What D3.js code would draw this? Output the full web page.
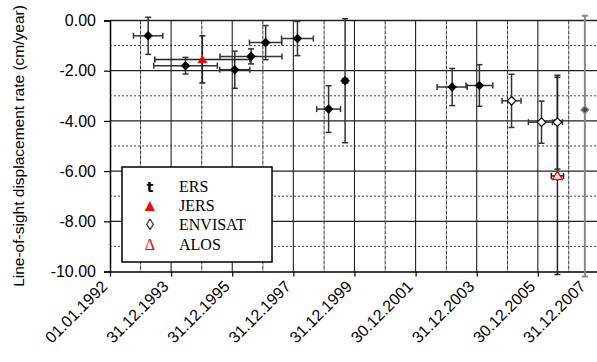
<!DOCTYPE html>
<html>
<head>
<meta charset="utf-8">
<script src="https://cdn.jsdelivr.net/npm/d3@7"></script>
<style>
  html, body { margin: 0; padding: 0; background: #fff; }
  svg { display: block; }
</style>
</head>
<body>
<svg id="chart" width="597" height="362"></svg>
<script>
// ---------------- data ----------------
const xTickLabels = ["01.01.1992","31.12.1993","31.12.1995","31.12.1997","31.12.1999","30.12.2001","31.12.2003","30.12.2005","31.12.2007"];
const yTickValues = [0, -2, -4, -6, -8, -10];
const yTitle = "Line-of-sight displacement rate (cm/year)";

const ersDates    = ["1993-04-01","1994-06-21","1996-01-30","1996-08-11","1997-02-02","1998-02-17","1999-02-24","1999-09-09","2003-03-11","2004-01-30"];
const ersValues   = [-0.61, -1.80, -1.96, -1.43, -0.88, -0.72, -3.53, -2.40, -2.65, -2.59];
const ersYErr     = [0.74, 0.33, 0.74, 0.30, 0.68, 0.68, 0.93, 2.47, 0.74, 0.83];
const ersXErrDays = [175, 380, 180, 370, 193, 190, 142, 30, 180, 160];

const jersDates    = ["1995-01-08"];
const jersValues   = [-1.55];
const jersYErr     = [0.94];
const jersXErrDays = [568];

const envisatDates    = ["2005-02-17","2006-02-10","2006-08-19"];
const envisatValues   = [-3.20, -4.05, -4.05];
const envisatYErr     = [1.06, 0.84, 1.87];
const envisatXErrDays = [113, 157, 60];

const alosDates    = ["2006-08-19"];
const alosValues   = [-6.19];
const alosYErr     = [3.93];
const alosXErrDays = [73];

const extraDates      = ["2007-07-13"];
const extraValues     = [-3.56];
const extraYErrPlus   = [3.75];
const extraYErrMinus  = [6.64];

const legendLabels  = ["ERS", "JERS", "ENVISAT", "ALOS"];
const legendSymbols = ["t", "\u25B2", "\u25CA", "\u0394"];
const legendColors  = ["#000", "#ff0000", "#000", "#ff0000"];

(function () {
// ---------------- setup ----------------
const parse = d3.timeParse("%Y-%m-%d");
const start = parse("1992-01-01");
const svg = d3.select("#chart");
svg.append("rect").attr("width", 597).attr("height", 362).attr("fill", "#fff");

const pLeft = 110, pTop = 20.5, pBottom = 271.5, pRight = 640;
const pxPerDay = 30.58 / 365.25;
const endDate = d3.timeDay.offset(start, 6000);
const x = d3.scaleTime().domain([start, endDate]).range([pLeft, pLeft + 6000 * pxPerDay]);
const y = d3.scaleLinear().domain([-10, 0]).range([pBottom, pTop]);

const majorDates = d3.range(0, 9).map(k => d3.timeDay.offset(start, k * 730));
const minorDates = d3.range(1, 17).filter(k => k % 2 === 1).map(k => d3.timeDay.offset(start, Math.round(k * 365.25)));

const grid = svg.append("g");
[-1, -3, -5, -7, -9].forEach(v => {
  grid.append("line").attr("x1", pLeft).attr("x2", pRight)
    .attr("y1", y(v)).attr("y2", y(v))
    .attr("stroke", "#444").attr("stroke-width", 1).attr("stroke-dasharray", "2,2");
});
[-2, -4, -6, -8].forEach(v => {
  grid.append("line").attr("x1", pLeft).attr("x2", pRight)
    .attr("y1", y(v)).attr("y2", y(v))
    .attr("stroke", "#222").attr("stroke-width", 1.2);
});
minorDates.forEach(d => {
  grid.append("line").attr("x1", x(d)).attr("x2", x(d))
    .attr("y1", pTop).attr("y2", pBottom)
    .attr("stroke", "#333").attr("stroke-width", 1).attr("stroke-dasharray", "4,1");
});
majorDates.slice(1).forEach(d => {
  grid.append("line").attr("x1", x(d)).attr("x2", x(d))
    .attr("y1", pTop).attr("y2", pBottom)
    .attr("stroke", "#222").attr("stroke-width", 1.1);
});
grid.append("line").attr("x1", pLeft).attr("x2", pRight).attr("y1", pTop).attr("y2", pTop)
  .attr("stroke", "#222").attr("stroke-width", 1.5);

// ---------------- axes ----------------
const yAxis = d3.axisLeft(y).tickValues(yTickValues).tickFormat(d => d.toFixed(2)).tickSize(6).tickPadding(8);
const gy = svg.append("g").attr("transform", `translate(${pLeft},0)`).call(yAxis);
gy.select(".domain").attr("stroke", "#000").attr("stroke-width", 1.5);
gy.selectAll(".tick line").attr("stroke", "#000").attr("stroke-width", 1.2);
gy.selectAll(".tick text").attr("font-family", "'Liberation Sans', Arial, sans-serif")
  .attr("font-size", 16).attr("fill", "#000");

const xAxis = d3.axisBottom(x).tickValues(majorDates).tickFormat((d, i) => xTickLabels[i]).tickSizeInner(5).tickSizeOuter(0);
const gx = svg.append("g").attr("transform", `translate(0,${pBottom})`).call(xAxis);
gx.select(".domain").attr("stroke", "#000").attr("stroke-width", 1.5);
gx.selectAll(".tick line").attr("stroke", "#000").attr("stroke-width", 1.2);
gx.selectAll(".tick text")
  .attr("font-family", "'Liberation Sans', Arial, sans-serif")
  .attr("font-size", 16).attr("fill", "#000")
  .attr("text-anchor", "end")
  .attr("dy", null).attr("y", 0)
  .attr("transform", function(d) {
    const tx = x(d);
    const shift = Math.min(0, 588 - tx);
    return `translate(${-5 + shift},${13}) rotate(-45)`;
  })
  .attr("dominant-baseline", "middle");

svg.append("text")
  .attr("transform", `translate(24,146) rotate(-90)`)
  .attr("text-anchor", "middle")
  .attr("font-family", "'Liberation Sans', Arial, sans-serif")
  .attr("font-size", 15.5).attr("fill", "#000")
  .text(yTitle);

// ---------------- error bars ----------------
const eb = svg.append("g");
function errorBars(dates, values, yPlus, yMinus, xErr, color, width) {
  dates.forEach((ds, i) => {
    const d = parse(ds);
    const cx = x(d), cy = y(values[i]);
    if (xErr && xErr[i] > 0) {
      const x1 = x(d3.timeDay.offset(d, -xErr[i])), x2 = x(d3.timeDay.offset(d, xErr[i]));
      eb.append("line").attr("x1", x1).attr("x2", x2).attr("y1", cy).attr("y2", cy)
        .attr("stroke", color).attr("stroke-width", width);
      [x1, x2].forEach(xx => eb.append("line").attr("x1", xx).attr("x2", xx)
        .attr("y1", cy - 3).attr("y2", cy + 3).attr("stroke", color).attr("stroke-width", width));
    }
    const y1 = y(values[i] + yPlus[i]), y2 = y(values[i] - yMinus[i]);
    eb.append("line").attr("x1", cx).attr("x2", cx).attr("y1", y1).attr("y2", y2)
      .attr("stroke", color).attr("stroke-width", width);
    [y1, y2].forEach(yy => eb.append("line").attr("x1", cx - 3).attr("x2", cx + 3)
      .attr("y1", yy).attr("y2", yy).attr("stroke", color).attr("stroke-width", width));
  });
}
errorBars(ersDates, ersValues, ersYErr, ersYErr, ersXErrDays, "#333", 1.5);
errorBars(jersDates, jersValues, jersYErr, jersYErr, jersXErrDays, "#222", 1.5);
errorBars(envisatDates, envisatValues, envisatYErr, envisatYErr, envisatXErrDays, "#333", 1.5);
errorBars(alosDates, alosValues, alosYErr, alosYErr, alosXErrDays, "#222", 1.5);
errorBars(extraDates, extraValues, extraYErrPlus, extraYErrMinus, null, "#888", 2);

// ---------------- markers ----------------
const mk = svg.append("g");
const diamond = r => `M0,${-r}L${r},0L0,${r}L${-r},0Z`;
const triangle = (w, h) => `M0,${-h * 0.55}L${w},${h * 0.45}L${-w},${h * 0.45}Z`;

ersDates.forEach((ds, i) => mk.append("path")
  .attr("d", diamond(4.8)).attr("transform", `translate(${x(parse(ds))},${y(ersValues[i])})`)
  .attr("fill", "#000"));
jersDates.forEach((ds, i) => mk.append("path")
  .attr("d", triangle(5, 8)).attr("transform", `translate(${x(parse(ds))},${y(jersValues[i])})`)
  .attr("fill", "#ff0000"));
envisatDates.forEach((ds, i) => mk.append("path")
  .attr("d", diamond(4.3)).attr("transform", `translate(${x(parse(ds))},${y(envisatValues[i])})`)
  .attr("fill", "#fff").attr("stroke", "#000").attr("stroke-width", 1.2));
alosDates.forEach((ds, i) => mk.append("path")
  .attr("d", triangle(5, 8)).attr("transform", `translate(${x(parse(ds))},${y(alosValues[i])})`)
  .attr("fill", "#fff").attr("stroke", "#ff0000").attr("stroke-width", 1.4));
extraDates.forEach((ds, i) => mk.append("path")
  .attr("d", diamond(3.8)).attr("transform", `translate(${x(parse(ds))},${y(extraValues[i])})`)
  .attr("fill", "#444").attr("stroke", "#888").attr("stroke-width", 1.4));

// ---------------- legend ----------------
const lg = svg.append("g");
lg.append("rect").attr("x", 122).attr("y", 167).attr("width", 150).attr("height", 95)
  .attr("fill", "#fff").attr("stroke", "#000").attr("stroke-width", 1.5);
const rowBase = [191.5, 210.5, 230, 250];
const symSizes = [14, 17, 16, 16];
legendLabels.forEach((lab, i) => {
  lg.append("text").attr("x", 150).attr("y", rowBase[i])
    .attr("text-anchor", "middle")
    .attr("font-family", i === 0 ? "'DejaVu Sans', sans-serif" : "'Liberation Serif', 'Times New Roman', serif")
    .attr("font-weight", i === 0 ? "bold" : "normal")
    .attr("font-size", symSizes[i])
    .attr("fill", legendColors[i]).text(legendSymbols[i]);
  lg.append("text").attr("x", 179).attr("y", rowBase[i])
    .attr("font-family", "'Liberation Serif', 'Times New Roman', serif")
    .attr("font-size", 16).attr("fill", "#000").text(lab);
});
})();
</script>
</body>
</html>
